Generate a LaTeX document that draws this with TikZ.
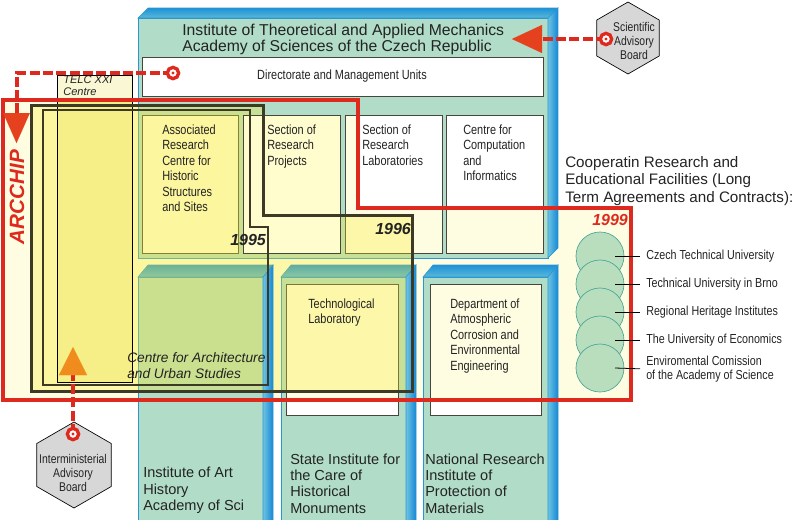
\documentclass[tikz,border=0pt]{standalone}
\usepackage{fontspec}
\setmainfont{Liberation Sans}
\newfontfamily\narrowsans[FakeStretch=0.82]{Liberation Sans}
\usetikzlibrary{calc,arrows.meta,shapes.geometric}

\definecolor{itamgreen}{RGB}{176,220,200}
\definecolor{edgeblue}{RGB}{40,150,210}
\definecolor{topblueA}{RGB}{30,145,215}
\definecolor{topblueB}{RGB}{90,185,215}
\definecolor{sideblueA}{RGB}{110,195,225}
\definecolor{sideblueB}{RGB}{20,135,215}
\definecolor{boxgray}{RGB}{70,70,60}
\definecolor{arcred}{RGB}{222,42,30}
\definecolor{tipred}{RGB}{230,65,30}
\definecolor{tiporange}{RGB}{240,140,30}
\definecolor{cream}{RGB}{255,253,225}
\definecolor{areayellow}{RGB}{250,235,40}
\definecolor{projyellow}{RGB}{255,252,205}
\definecolor{telctop}{RGB}{250,248,212}
\definecolor{telcyellow}{RGB}{246,238,135}
\definecolor{lineolive}{RGB}{60,58,38}
\definecolor{hexgray}{RGB}{215,215,215}
\definecolor{coopgreen}{RGB}{185,222,190}
\definecolor{coopedge}{RGB}{70,165,150}
\definecolor{darktext}{RGB}{35,35,35}

\begin{document}
\begin{tikzpicture}[x=0.75pt,y=-0.75pt,
    front face/.style={fill=itamgreen,draw=edgeblue,line width=0.6pt},
    top face/.style={top color=topblueA,bottom color=topblueB,draw=edgeblue,line width=0.4pt},
    side face/.style={left color=sideblueA,right color=sideblueB,draw=edgeblue,line width=0.4pt},
    unit box/.style={draw=boxgray,line width=0.6pt},
    title text/.style={font=\fontsize{11.8}{12}\selectfont,align=left,inner sep=0,anchor=base west,text=darktext},
    unit text/.style={font=\narrowsans\fontsize{10}{11.6}\selectfont,align=left,inner sep=0,anchor=base west,text=darktext},
    inst text/.style={font=\fontsize{10.9}{12.2}\selectfont,align=left,inner sep=0,anchor=base west,text=darktext},
    year/.style={font=\bfseries\itshape\fontsize{12}{12}\selectfont,inner sep=0,anchor=base west},
    area line/.style={draw=lineolive,line join=miter},
    dashline/.style={draw=arcred,line width=3pt,dash pattern=on 7.5pt off 2.5pt},
    ring/.style={circle,draw=arcred,fill=white,line width=2.5pt,minimum size=8.5pt,inner sep=0,
        path picture={\fill[arcred] (path picture bounding box.center) circle (1.2pt);}},
    board/.style={regular polygon,regular polygon sides=6,shape border rotate=30,draw,fill=hexgray,line width=0.5pt,inner sep=0},
    board text/.style={font=\narrowsans\fontsize{9.5}{10.3}\selectfont,align=center,inner sep=0,text=darktext},
    disc/.style={circle,draw=coopedge,fill=coopgreen,line width=0.5pt,minimum size=36pt,inner sep=0},
    disc text/.style={font=\narrowsans\fontsize{9.8}{10.5}\selectfont,align=left,inner sep=0,anchor=west,text=darktext}]

\useasboundingbox (0,0) rectangle (800,519);

\fill[cream] (3,100) -- (358,100) -- (358,208) -- (631,208) -- (631,400) -- (3,400) -- cycle;

\draw[front face] (138,18) rectangle (548,258);
\foreach \xl/\xr in {138/263,281/406,423/548}{
  \draw[front face] (\xl,277) rectangle (\xr,525);
  \shadedraw[top face] (\xl,277) -- (\xl+10,265) -- (\xr+10,265) -- (\xr,277) -- cycle;
}

\fill[white] (142,57) rectangle (543,96);
\foreach \xl/\xr in {142/238,345/442,446/543}
  \fill[white] (\xl,115) rectangle (\xr,253);
\fill[white] (286,284) rectangle (398,415);
\fill[white] (430,284) rectangle (541,415);
\begin{scope}
  \clip (3,100) -- (358,100) -- (358,208) -- (631,208) -- (631,400) -- (3,400) -- cycle;
  \foreach \xl/\xr in {142/238,345/442,446/543}
    \fill[cream] (\xl,115) rectangle (\xr,253);
  \fill[cream] (286,284) rectangle (398,415);
  \fill[cream] (430,284) rectangle (541,415);
\end{scope}
\draw[unit box] (142,57) rectangle (543,96);
\foreach \xl/\xr in {142/238,345/442,446/543}
  \draw[unit box] (\xl,115) rectangle (\xr,253);
\draw[unit box] (286,284) rectangle (398,415);
\draw[unit box] (430,284) rectangle (541,415);

\fill[areayellow,fill opacity=0.3] (31,105) -- (263,105) -- (263,215) -- (412,215) -- (412,391) -- (31,391) -- cycle;
\fill[areayellow,fill opacity=0.08] (43,110) -- (250,110) -- (250,227) -- (268,227) -- (268,385) -- (43,385) -- cycle;

\shadedraw[top face] (138,18) -- (148,8) -- (558,8) -- (548,18) -- cycle;
\shadedraw[side face] (548,18) -- (558,8) -- (558,248) -- (548,258) -- cycle;
\foreach \xr in {263,406,548}
  \shadedraw[side face] (\xr,277) -- (\xr+10,265) -- (\xr+10,525) -- (\xr,525) -- cycle;

\draw[unit box,fill=projyellow] (243,115) rectangle (340,253);
\fill[telctop] (57,75) rectangle (132,100);
\fill[telcyellow] (57,100) rectangle (132,382);
\draw[black,line width=0.5pt] (57,75) rectangle (132,382);

\draw[area line,line width=1.5pt] (43,110) -- (250,110) -- (250,227) -- (268,227) -- (268,385) -- (43,385) -- cycle;
\draw[area line,line width=2.25pt] (31,105) -- (263,105) -- (263,215) -- (412,215) -- (412,391) -- (31,391) -- cycle;
\draw[arcred,line width=3.5pt] (3,100) -- (358,100) -- (358,208) -- (631,208) -- (631,400) -- (3,400) -- cycle;

\foreach \i/\y in {1/256,2/284,3/312,4/340,5/368}
  \node[disc] (disc\i) at (600,\y) {};

\node[title text] (itam) at (182,51) {Institute of Theoretical and Applied Mechanics\\Academy of Sciences of the Czech Republic};
\node[unit text,anchor=center] (dir) at (342,76) {Directorate and Management Units};
\node[unit text] (asso) at (162,211.5) {Associated\\Research\\Centre for\\Historic\\Structures\\and Sites};
\node[unit text] (proj) at (267,165) {Section of\\Research\\Projects};
\node[unit text] (labs) at (362,165) {Section of\\Research\\Laboratories};
\node[unit text] (comp) at (463,180.5) {Centre for\\Computation\\and\\Informatics};
\node[unit text] (tech) at (308,323.5) {Technological\\Laboratory};
\node[unit text] (dept) at (450,370) {Department of\\Atmospheric\\Corrosion and\\Environmental\\Engineering};

\node[inst text] (art) at (143,510.5) {Institute of Art\\History\\Academy of Sci};
\node[inst text] (sirp) at (290,513) {State Institute for\\the Care of\\Historical\\Monuments};
\node[inst text] (nrip) at (425,513) {National Research\\Institute of\\Protection of\\Materials};

\node[inst text,font=\itshape\fontsize{10.3}{11.3}\selectfont] (cau) at (127,378) {Centre for Architecture\\and Urban Studies};
\node[inst text,font=\itshape\fontsize{8.3}{9}\selectfont] (telc) at (63,95) {TELČ XXI\\Centre};

\node[year,text=darktext] (y95) at (230,245) {1995};
\node[year,text=darktext] (y96) at (375,234) {1996};
\node[year,text=arcred] (y99) at (592,225) {1999};
\node[font=\bfseries\itshape\fontsize{15.5}{15.5}\selectfont,text=arcred,rotate=90,inner sep=0] (arcchip) at (17,197) {ARCCHIP};

\node[inst text,font=\fontsize{11.4}{13.1}\selectfont] (coop) at (565,202) {Cooperatin Research and\\Educational Facilities (Long\\Term Agreements and Contracts):};
\foreach \i/\y/\txt in {1/256/{Czech Technical University},2/284/{Technical University in Brno},
    3/312/{Regional Heritage Institutes},4/340/{The University of Economics},
    5/369/{Enviromental Comission\\of the Academy of Science}}{
  \node[disc text] (partner\i) at (646,\y) {\txt};
  \draw[line width=0.6pt,shorten >=4.5pt] (disc\i.center) ++(15,0) -- (partner\i.west);
}

\node[board,minimum size=54pt] (sab) at (628,38) {};
\node[board text] (sabtext) at (634,41) {Scientific\\Advisory\\Board};
\node[board,minimum size=64.5pt] (iab) at (74,465) {};
\node[board text,font=\narrowsans\fontsize{9.5}{10.5}\selectfont] (iabtext) at (73,473) {Interministerial\\Advisory\\Board};

\coordinate (dirdot) at (173,73);
\coordinate (sabdot) at (606,39);
\coordinate (iabdot) at (73,434);
\coordinate (arctip) at (16.5,143);
\coordinate (itamtip) at (512,39);
\coordinate (iabtip) at (73,347);

\draw[dashline,-{Triangle[length=22.5pt,width=20pt,line width=0.01pt,color=tipred]}] (dirdot) -| (arctip);
\draw[dashline,-{Triangle[length=22.5pt,width=21pt,line width=0.01pt,color=tipred]}] (sabdot) -- (itamtip);
\draw[dashline,-{Triangle[length=21pt,width=21pt,line width=0.01pt,color=tiporange]}] (iabdot) -- (iabtip);
\node[ring] (dirring) at (dirdot) {};
\node[ring] (sabring) at (sabdot) {};
\node[ring] (iabring) at (iabdot) {};

\end{tikzpicture}
\end{document}
